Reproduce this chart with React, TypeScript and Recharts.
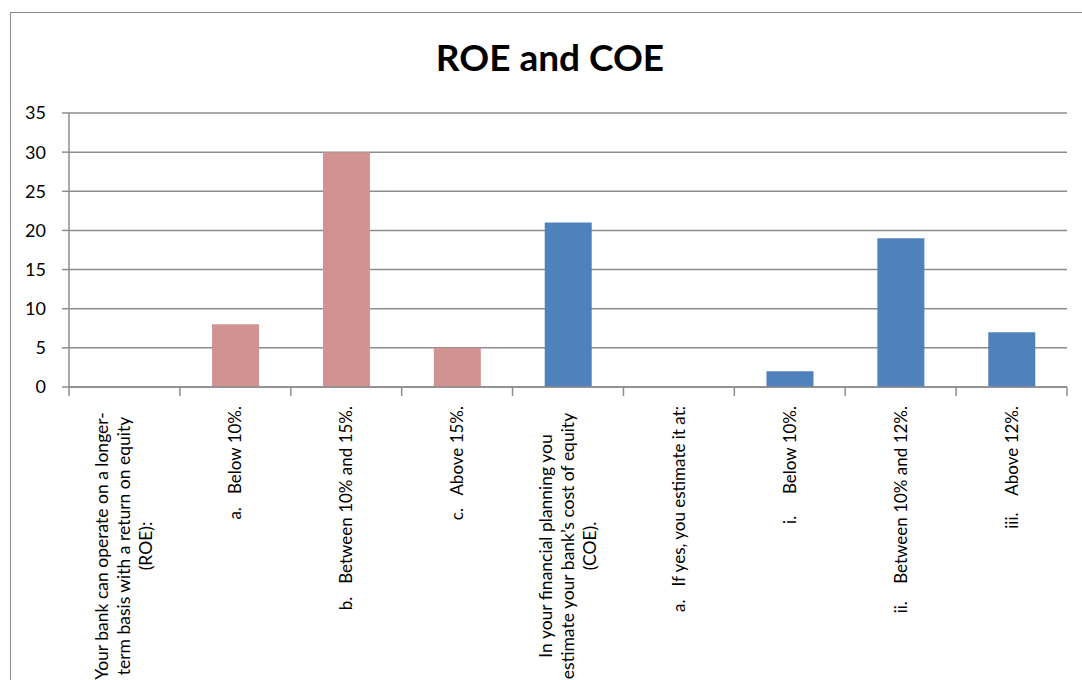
import { BarChart, Bar, XAxis, YAxis, CartesianGrid, Cell } from 'recharts';

// survey answers, one bar per question / option
const questions = [
  ['Your bank can operate on a longer-', 'term basis with a return on equity', '(ROE):'],
  ['a.\u00A0\u00A0\u00A0Below 10%.'],
  ['b.\u00A0\u00A0\u00A0Between 10% and 15%.'],
  ['c.\u00A0\u00A0\u00A0Above 15%.'],
  ['In your financial planning you', 'estimate your bank\u2019s cost of equity', '(COE).'],
  ['a.\u00A0\u00A0\u00A0If yes, you estimate it at:'],
  ['i.\u00A0\u00A0\u00A0\u00A0\u00A0Below 10%.'],
  ['ii.\u00A0\u00A0\u00A0\u00A0Between 10% and 12%.'],
  ['iii.\u00A0\u00A0\u00A0\u00A0Above 12%.'],
];
const answers = [0, 8, 30, 5, 21, 0, 2, 19, 7];
const groups = ['ROE', 'ROE', 'ROE', 'ROE', 'COE', 'COE', 'COE', 'COE', 'COE'];
const yTicks = [0, 5, 10, 15, 20, 25, 30, 35];

const groupColor: Record<string, string> = { ROE: '#D09392', COE: '#4F81BD' };
const AXIS = '#8C8C8C';
const FONT = 'Lato, "Noto Sans", sans-serif';

const rows = questions.map((lines, i) => ({ key: String(i), lines, value: answers[i], group: groups[i] }));

// rotated label, block pinned to the axis, lines centred in the block;
// tick marks sit on the category boundaries
function QuestionTick(props: any) {
  const { x, y, payload, index } = props;
  const half = payload?.offset ?? 55;
  const lines: string[] = rows[Number(payload.value)].lines;
  const lineH = 22;
  const axisY = y - 8;
  const top = y + 11;
  return (
    <g>
      <line x1={x - half} y1={axisY} x2={x - half} y2={axisY + 9} stroke={AXIS} strokeWidth={1.5} />
      {index === rows.length - 1 && (
        <line x1={x + half} y1={axisY} x2={x + half} y2={axisY + 9} stroke={AXIS} strokeWidth={1.5} />
      )}
      <g transform={`translate(${x}, ${top}) rotate(-90)`}>
        {lines.map((t, i) => {
          const dy = (i - (lines.length - 1) / 2) * lineH + 6;
          if (lines.length === 1) {
            return (
              <text key={i} x={0} y={dy} textAnchor="end" fontSize={17} fontFamily={FONT} fill="#000">
                {t}
              </text>
            );
          }
          return (
            <text key={i} x={-140} y={dy} textAnchor="middle" fontSize={17.5} fontFamily={FONT} fill="#000">
              {t}
            </text>
          );
        })}
      </g>
    </g>
  );
}

export default function App() {
  return (
    <div style={{ position: 'absolute', left: 0, top: 0, width: 1082, height: 680, overflow: 'hidden', background: '#fff' }}>
      <div
        style={{
          position: 'absolute',
          left: 10,
          top: 12,
          width: 1100,
          height: 700,
          border: '1.5px solid #8C8C8C',
        }}
      />
      <div
        style={{
          position: 'absolute',
          left: 0,
          width: 1100,
          top: 34,
          textAlign: 'center',
          fontFamily: FONT,
          fontWeight: 700,
          fontSize: 37,
          lineHeight: '46px',
          color: '#000',
        }}
      >
        ROE and COE
      </div>
      <div style={{ position: 'absolute', left: 0, top: 0 }}>
        <BarChart
          width={1082}
          height={680}
          data={rows}
          margin={{ top: 113, right: 15, bottom: 0, left: 0 }}
          barCategoryGap="29%"
        >
          <CartesianGrid vertical={false} stroke={AXIS} strokeWidth={1.5} />
          <XAxis
            dataKey="key"
            height={293}
            interval={0}
            tickLine={false}
            axisLine={{ stroke: AXIS, strokeWidth: 1.5 }}
            tick={<QuestionTick />}
          />
          <YAxis
            width={69}
            domain={[0, 35]}
            ticks={yTicks}
            interval={0}
            tickSize={7}
            tickMargin={16}
            axisLine={{ stroke: AXIS, strokeWidth: 1.5 }}
            tickLine={{ stroke: AXIS, strokeWidth: 1.5 }}
            tick={{ fill: '#000', fontSize: 18, fontFamily: FONT }}
          />
          <Bar dataKey="value" isAnimationActive={false}>
            {rows.map((r) => (
              <Cell key={r.key} fill={groupColor[r.group]} />
            ))}
          </Bar>
        </BarChart>
      </div>
    </div>
  );
}
